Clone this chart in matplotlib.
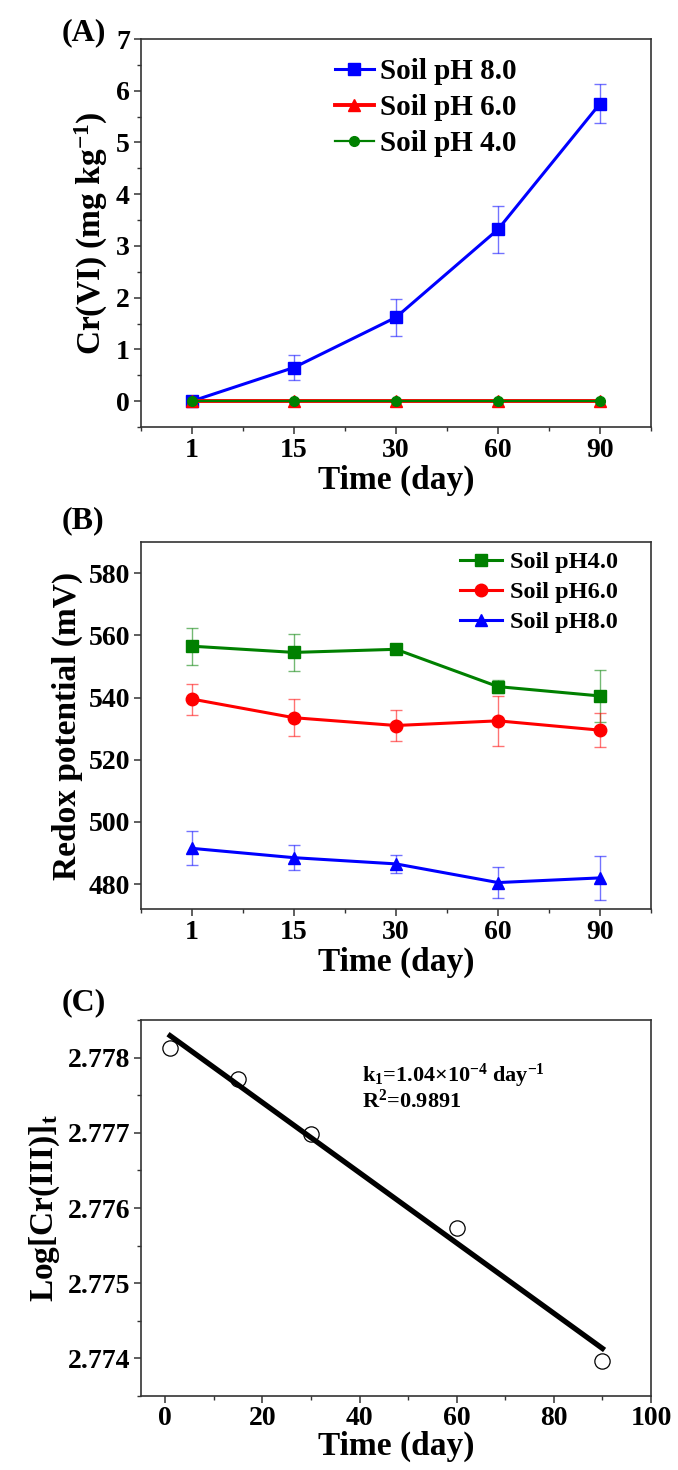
"""Three-panel figure: Cr(VI) over time, redox potential, and first-order Cr(III) fit."""

import matplotlib
matplotlib.use("Agg")
import matplotlib.pyplot as plt
from matplotlib.ticker import MultipleLocator, FixedLocator, FormatStrFormatter
import numpy as np


# ---- data ----
DAY_LABELS = ["1", "15", "30", "60", "90"]
DAYS = [1, 15, 30, 60, 90]

# (A) Cr(VI), mg/kg
CR6_PH8 = [0.0, 0.65, 1.62, 3.32, 5.75]
CR6_PH8_ERR = [0.05, 0.25, 0.36, 0.46, 0.38]
CR6_PH6 = [0.0, 0.0, 0.0, 0.0, 0.0]
CR6_PH4 = [0.0, 0.0, 0.0, 0.0, 0.0]

# (B) redox potential, mV
EH_PH4 = [556.5, 554.5, 555.5, 543.5, 540.5]
EH_PH4_ERR = [6.0, 6.0, 1.0, 2.0, 8.5]
EH_PH6 = [539.5, 533.5, 531.0, 532.5, 529.5]
EH_PH6_ERR = [5.0, 6.0, 5.0, 8.0, 5.5]
EH_PH8 = [491.5, 488.5, 486.5, 480.5, 482.0]
EH_PH8_ERR = [5.5, 4.0, 3.0, 5.0, 7.0]

# (C) log Cr(III)
LOG_CR3 = [2.77813, 2.77771, 2.77698, 2.77574, 2.77397]
K1_TEXT = "k$_1$=1.04×10$^{-4}$ day$^{-1}$"
R2_TEXT = "R$^2$=0.9891"

BLUE = "#0000ff"
RED = "#ff0000"
GREEN = "#008000"
SPINE = "#333333"

FIG_W, FIG_H = 678, 1470
TICK_SIZE = 20
LABEL_SIZE = 24


def _ax_rect(left, right, top, bottom):
    return [left / FIG_W, 1 - bottom / FIG_H, (right - left) / FIG_W, (bottom - top) / FIG_H]


def _style_axes(ax):
    for side in ax.spines.values():
        side.set_linewidth(1.2)
        side.set_color(SPINE)
    ax.tick_params(which="major", direction="out", length=5, width=1.1, labelsize=TICK_SIZE,
                   color=SPINE, top=False, right=False, pad=3)
    ax.tick_params(which="minor", direction="out", length=3, width=1.0,
                   color=SPINE, top=False, right=False)


def _err(ax, x, y, yerr, color):
    ax.errorbar(x, y, yerr=yerr, fmt="none", ecolor=color, elinewidth=1.0,
                capsize=4, capthick=1.0, alpha=0.55, zorder=2)


def panel_a(ax):
    x = np.arange(len(DAYS))
    _err(ax, x, CR6_PH8, CR6_PH8_ERR, BLUE)
    ax.plot(x, CR6_PH8, color=BLUE, lw=2.2, marker="s", ms=8, label="Soil pH 8.0", zorder=3)
    ax.plot(x, CR6_PH6, color=RED, lw=2.8, marker="^", ms=9, label="Soil pH 6.0", zorder=3)
    ax.plot(x, CR6_PH4, color=GREEN, lw=1.6, marker="o", ms=7, label="Soil pH 4.0", zorder=4)

    ax.set_xlim(-0.5, 4.5)
    ax.set_ylim(-0.5, 7)
    ax.set_xticks(x)
    ax.set_xticklabels(DAY_LABELS)
    ax.xaxis.set_minor_locator(FixedLocator(np.arange(-0.5, 4.6, 0.5)))
    ax.yaxis.set_major_locator(MultipleLocator(1))
    ax.yaxis.set_minor_locator(MultipleLocator(0.5))
    ax.set_xlabel("Time (day)", fontsize=LABEL_SIZE, labelpad=1)
    ax.set_ylabel("Cr(VI) (mg kg$^{-1}$)", fontsize=LABEL_SIZE, labelpad=4)
    ax.legend(loc="upper left", bbox_to_anchor=(0.38, 0.95), frameon=False,
              fontsize=21, handlelength=1.35, handletextpad=0.2, labelspacing=0.3,
              borderpad=0, borderaxespad=0)
    _style_axes(ax)


def panel_b(ax):
    x = np.arange(len(DAYS))
    for y, e, c in [(EH_PH4, EH_PH4_ERR, GREEN), (EH_PH6, EH_PH6_ERR, RED), (EH_PH8, EH_PH8_ERR, BLUE)]:
        _err(ax, x, y, e, c)
    ax.plot(x, EH_PH4, color=GREEN, lw=2.2, marker="s", ms=8.5, label="Soil pH4.0", zorder=3)
    ax.plot(x, EH_PH6, color=RED, lw=2.2, marker="o", ms=9, label="Soil pH6.0", zorder=3)
    ax.plot(x, EH_PH8, color=BLUE, lw=2.2, marker="^", ms=9, label="Soil pH8.0", zorder=3)

    ax.set_xlim(-0.5, 4.5)
    ax.set_ylim(472, 590)
    ax.set_xticks(x)
    ax.set_xticklabels(DAY_LABELS)
    ax.xaxis.set_minor_locator(FixedLocator(np.arange(-0.5, 4.6, 0.5)))
    ax.yaxis.set_major_locator(MultipleLocator(20))
    ax.set_xlabel("Time (day)", fontsize=LABEL_SIZE, labelpad=1)
    ax.set_ylabel("Redox potential (mV)", fontsize=LABEL_SIZE, labelpad=4)
    ax.legend(loc="upper left", bbox_to_anchor=(0.625, 0.975), frameon=False,
              fontsize=17.5, handlelength=1.75, handletextpad=0.3, labelspacing=0.33,
              borderpad=0, borderaxespad=0)
    _style_axes(ax)


def panel_c(ax):
    slope, intercept = np.polyfit(DAYS, LOG_CR3, 1)
    fit_x = np.array([DAYS[0], DAYS[-1]])
    ax.plot(fit_x, slope * fit_x + intercept, color="black", lw=3.8, zorder=2)
    ax.plot(DAYS, LOG_CR3, ls="none", marker="o", ms=11, mfc="none", mec="black",
            mew=0.9, zorder=3)

    ax.set_xlim(-5, 100)
    ax.set_ylim(2.7735, 2.7785)
    ax.xaxis.set_major_locator(MultipleLocator(20))
    ax.xaxis.set_minor_locator(MultipleLocator(10))
    ax.yaxis.set_major_locator(MultipleLocator(0.001))
    ax.yaxis.set_minor_locator(MultipleLocator(0.0005))
    ax.yaxis.set_major_formatter(FormatStrFormatter("%.3f"))
    ax.set_xlabel("Time (day)", fontsize=LABEL_SIZE, labelpad=0)
    ax.set_ylabel("Log[Cr(III)]$_t$", fontsize=LABEL_SIZE, labelpad=4)
    ax.text(0.433, 0.852, K1_TEXT, transform=ax.transAxes, fontsize=16, va="center")
    ax.text(0.433, 0.784, R2_TEXT, transform=ax.transAxes, fontsize=16, va="center")
    _style_axes(ax)
    ax.tick_params(axis="x", which="major", pad=2)


def main():
    plt.rcParams["font.family"] = ["Liberation Serif", "DejaVu Serif"]
    plt.rcParams["font.weight"] = "bold"
    plt.rcParams["axes.labelweight"] = "bold"
    plt.rcParams["mathtext.fontset"] = "custom"
    plt.rcParams["mathtext.rm"] = "Liberation Serif:bold"
    plt.rcParams["mathtext.it"] = "Liberation Serif:bold"
    plt.rcParams["mathtext.bf"] = "Liberation Serif:bold"
    plt.rcParams["mathtext.default"] = "rm"

    fig = plt.figure(figsize=(FIG_W / 100, FIG_H / 100), dpi=100)
    ax_a = fig.add_axes(_ax_rect(141, 651, 39, 427))
    ax_b = fig.add_axes(_ax_rect(141, 651, 542, 909))
    ax_c = fig.add_axes(_ax_rect(141, 651, 1020, 1396))

    panel_a(ax_a)
    panel_b(ax_b)
    panel_c(ax_c)

    for label, y in [("(A)", 33), ("(B)", 521), ("(C)", 1003)]:
        fig.text(62 / FIG_W, 1 - y / FIG_H, label, fontsize=23, ha="left", va="center")

    fig.savefig("out.png", dpi=100)
    plt.close(fig)


if __name__ == "__main__":
    main()
